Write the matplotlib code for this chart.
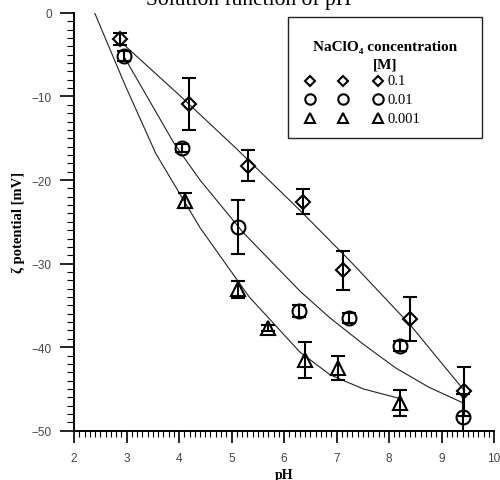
import matplotlib
matplotlib.use("Agg")
import matplotlib.pyplot as plt
from matplotlib.patches import Rectangle
from matplotlib.lines import Line2D

# Measured zeta potentials (mV) vs pH for three NaClO4 concentrations
ph_01 = [2.87, 4.19, 5.32, 6.37, 7.13, 8.40, 9.42]
zeta_01 = [-3.1, -10.9, -18.3, -22.6, -30.8, -36.6, -45.3]
err_01 = [0.75, 3.15, 1.85, 1.5, 2.35, 2.65, 2.95]

ph_001 = [2.95, 4.06, 5.13, 6.29, 7.24, 8.21, 9.41]
zeta_001 = [-5.2, -16.2, -25.6, -35.7, -36.5, -39.9, -48.4]
err_001 = [0.6, 0.5, 3.2, 0.7, 0.6, 0.6, 2.75]

ph_0001 = [4.11, 5.13, 5.70, 6.40, 7.02, 8.21]
zeta_0001 = [-22.5, -33.1, -37.7, -41.5, -42.5, -46.7]
err_0001 = [0.9, 1.0, 0.4, 2.15, 1.4, 1.6]

# Trend curves drawn through the data
curve_ph_01 = [2.95, 4.0, 5.07, 6.30, 7.26, 8.40, 9.42]
curve_zeta_01 = [-3.8, -9.8, -16.1, -23.6, -29.7, -37.3, -45.1]

curve_ph_001 = [2.95, 3.905, 4.40, 5.225, 6.305, 6.876, 7.50, 8.13, 8.76, 9.385]
curve_zeta_001 = [-5.2, -15.6, -20.0, -26.3, -33.3, -36.5, -39.6, -42.5, -44.8, -46.6]

curve_ph_0001 = [2.394, 2.97, 3.556, 4.40, 5.339, 6.305, 6.876, 7.51, 8.177]
curve_zeta_0001 = [0.0, -8.6, -16.8, -25.7, -34.0, -40.6, -43.3, -45.0, -46.1]

legend_labels = ["0.1", "0.01", "0.001"]
xticks = [2, 3, 4, 5, 6, 7, 8, 9, 10]
yticks = [0, -10, -20, -30, -40, -50]

serif = ["Liberation Serif", "DejaVu Serif"]
sans = ["Liberation Sans", "DejaVu Sans"]

fig = plt.figure(figsize=(5.0, 4.81), dpi=100)
ax = fig.add_axes([0.148, 0.1025, 0.840, 0.8685])

ax.set_xlim(2, 10)
ax.set_ylim(-50, 0)

for cx, cy in [(curve_ph_01, curve_zeta_01), (curve_ph_001, curve_zeta_001),
               (curve_ph_0001, curve_zeta_0001)]:
    ax.plot(cx, cy, color="#222222", lw=0.8, zorder=2, solid_joinstyle="round")

common = dict(ls="none", color="black", mfc="none", mec="black", mew=1.5,
              ecolor="black", elinewidth=1.5, capsize=5, capthick=1.5, zorder=3)
ax.errorbar(ph_01, zeta_01, yerr=err_01, marker="D", ms=7.2, **common)
ax.errorbar(ph_001, zeta_001, yerr=err_001, marker="o", ms=10, **common)
ax.errorbar(ph_0001, zeta_0001, yerr=err_0001, marker="^", ms=10, **common)

for side in ["top", "right"]:
    ax.spines[side].set_visible(False)
for side in ["left", "bottom"]:
    ax.spines[side].set_linewidth(1.4)

ax.set_xticks(xticks)
ax.set_yticks(yticks)
ax.set_xticks([2 + 0.1 * i for i in range(81)], minor=True)
ax.set_yticks([-i for i in range(51)], minor=True)
ax.tick_params(axis="x", which="major", length=8.5, width=1.2, pad=7,
               labelsize=8.5, labelcolor="#444444")
ax.tick_params(axis="x", which="minor", length=4, width=0.8)
ax.tick_params(axis="y", which="major", length=10, width=1.2, pad=6,
               labelsize=8.5, labelcolor="#444444")
ax.tick_params(axis="y", which="minor", length=5.3, width=0.8)
for lab in ax.get_xticklabels() + ax.get_yticklabels():
    lab.set_family(sans)

ax.set_xlabel("pH", family=serif, fontweight="bold", fontsize=10, labelpad=3)
ax.set_ylabel("ζ potential [mV]", family=serif, fontweight="bold", fontsize=10.5,
              labelpad=5)

fig.text(0.497, 1 - 5.5 / 481, "Solution function of pH", family=serif,
         fontsize=15.5, ha="center", va="baseline")

# Legend box
W, H = 500.0, 481.0
def fx(px):
    return px / W
def fy(py):
    return 1 - py / H

fig.add_artist(Rectangle((fx(288), fy(139)), fx(482) - fx(288), fy(18) - fy(139),
                         transform=fig.transFigure, fill=False, ec="#222222", lw=1.0))
fig.text(fx(385), fy(48), "NaClO₄ concentration", family=serif, fontweight="bold",
         fontsize=11, ha="center", va="center")
fig.text(fx(385), fy(65), "[M]", family=serif, fontweight="bold",
         fontsize=11, ha="center", va="center")

leg_markers = [("D", 5.6), ("o", 7.5), ("^", 7.5)]
rows = [81.7, 100, 119.3]
cols = [310, 343.3, 377.7]
for (mk, ms), ry, lab in zip(leg_markers, rows, legend_labels):
    for cxp in cols:
        fig.add_artist(Line2D([fx(cxp)], [fy(ry)], transform=fig.transFigure,
                              marker=mk, ms=ms, mfc="none", mec="black", mew=1.5,
                              ls="none"))
    fig.text(fx(388), fy(ry), lab, family=serif, fontsize=10.5, ha="left",
             va="center")

fig.savefig("out.png", dpi=100)
